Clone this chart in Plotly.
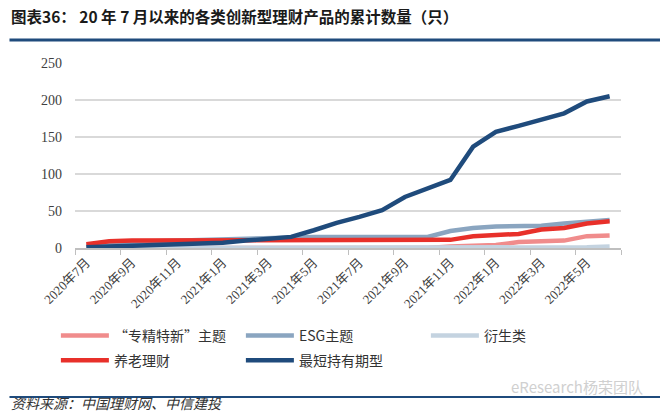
import plotly.graph_objects as go

# months from 2020-07 to 2022-06
months = ["2020年7月", "2020年8月", "2020年9月", "2020年10月", "2020年11月", "2020年12月",
          "2021年1月", "2021年2月", "2021年3月", "2021年4月", "2021年5月", "2021年6月",
          "2021年7月", "2021年8月", "2021年9月", "2021年10月", "2021年11月", "2021年12月",
          "2022年1月", "2022年2月", "2022年3月", "2022年4月", "2022年5月", "2022年6月"]

zjtx = [0, 0, 0, 0, 0, 0, 0, 0, 0, 0, 0, 0, 0, 0, 0, 0, 2, 3, 4, 8, 9, 10, 16, 17]
esg = [3, 6, 8, 9, 10, 11, 12, 13, 14, 14, 15, 15, 15, 15, 15, 15, 23, 27, 29, 29, 30, 33, 36, 38]
yansheng = [0, 0, 0, 0, 0, 0, 0, 0, 0, 0, 0, 0, 0, 0, 0, 0, 0, 0, 0, 0, 0, 0, 1, 2]
yanglao = [5, 9, 10, 10, 10, 10, 10, 10, 10, 10, 10, 10, 10, 10, 10, 10, 11, 16, 18, 19, 25, 27, 33, 36]
zuiduan = [1, 2, 3, 3, 5, 6, 7, 10, 13, 15, 24, 34, 42, 51, 69, 80, 92, 137, 157, 165, 174, 182, 198, 205]

names = ["“专精特新”主题", "ESG主题", "衍生类", "养老理财", "最短持有期型"]
series = [zjtx, esg, yansheng, yanglao, zuiduan]
colors = ["#f08c8c", "#8aa5c0", "#c4d3e0", "#e8302a", "#1f4b7c"]
legend_row = ["legend", "legend", "legend", "legend2", "legend2"]

fig = go.Figure()
for n, s, c, lg in zip(names, series, colors, legend_row):
    fig.add_trace(go.Scatter(x=months, y=s, name=n, mode="lines", legend=lg,
                             line=dict(color=c, width=4.5)))

leg = dict(orientation="h", x=-0.035, xanchor="left", yanchor="top",
           entrywidth=122, entrywidthmode="pixels", traceorder="normal",
           font=dict(size=14, color="#333333"), itemwidth=48)

fig.update_layout(
    width=660, height=413,
    margin=dict(l=75, r=39, t=63, b=165, autoexpand=False),
    plot_bgcolor="white", paper_bgcolor="white",
    font=dict(family="Noto Sans CJK SC", color="#333333"),
    showlegend=True,
    legend=dict(leg, y=-0.389),
    legend2=dict(leg, y=-0.522),
)
fig.update_xaxes(type="category", range=[-0.5, 23.5], tickson="boundaries", dtick=2,
                 tickangle=-45, ticks="outside", ticklen=5, tickcolor="#bfbfbf",
                 showline=True, linecolor="#bfbfbf", linewidth=1.5, showgrid=False,
                 tickfont=dict(family="Liberation Serif, Noto Sans CJK SC", size=13, color="#404040"))
fig.update_yaxes(range=[0, 250], dtick=50, showgrid=True, gridcolor="#d9d9d9", gridwidth=1.5,
                 zeroline=False, showline=False, ticks="", ticklabelstandoff=12,
                 tickfont=dict(family="Liberation Serif", size=14, color="#404040"))

# title, rules and source
fig.add_annotation(text="<b>图表36： 20 年 7 月以来的各类创新型理财产品的累计数量（只）</b>",
                   xref="paper", yref="paper", x=-0.12, y=1.254, xanchor="left", yanchor="middle",
                   showarrow=False, font=dict(size=15.5, color="#1a1a1a", family="Noto Sans CJK SC"))
fig.add_shape(type="line", xref="paper", yref="paper", x0=-0.12, x1=1.08, y0=1.124, y1=1.124,
              line=dict(color="#1f4b7c", width=3))
fig.add_shape(type="line", xref="paper", yref="paper", x0=-0.12, x1=1.08, y0=-0.805, y1=-0.805,
              line=dict(color="#1f4b7c", width=2))
fig.add_annotation(text="<i>资料来源：中国理财网、中信建投</i>", xref="paper", yref="paper",
                   x=-0.12, y=-0.84, xanchor="left", yanchor="middle", showarrow=False,
                   font=dict(size=14, color="#333333", family="Noto Sans CJK SC"))
fig.add_annotation(text="eResearch杨荣团队", xref="paper", yref="paper",
                   x=1.044, y=-0.746, xanchor="right", yanchor="middle", showarrow=False,
                   font=dict(size=15, color="#d0d0d0", family="Noto Sans CJK SC"))

fig.write_html("out.html", config={"displayModeBar": False},
               post_script="document.body.style.margin='0px';")
